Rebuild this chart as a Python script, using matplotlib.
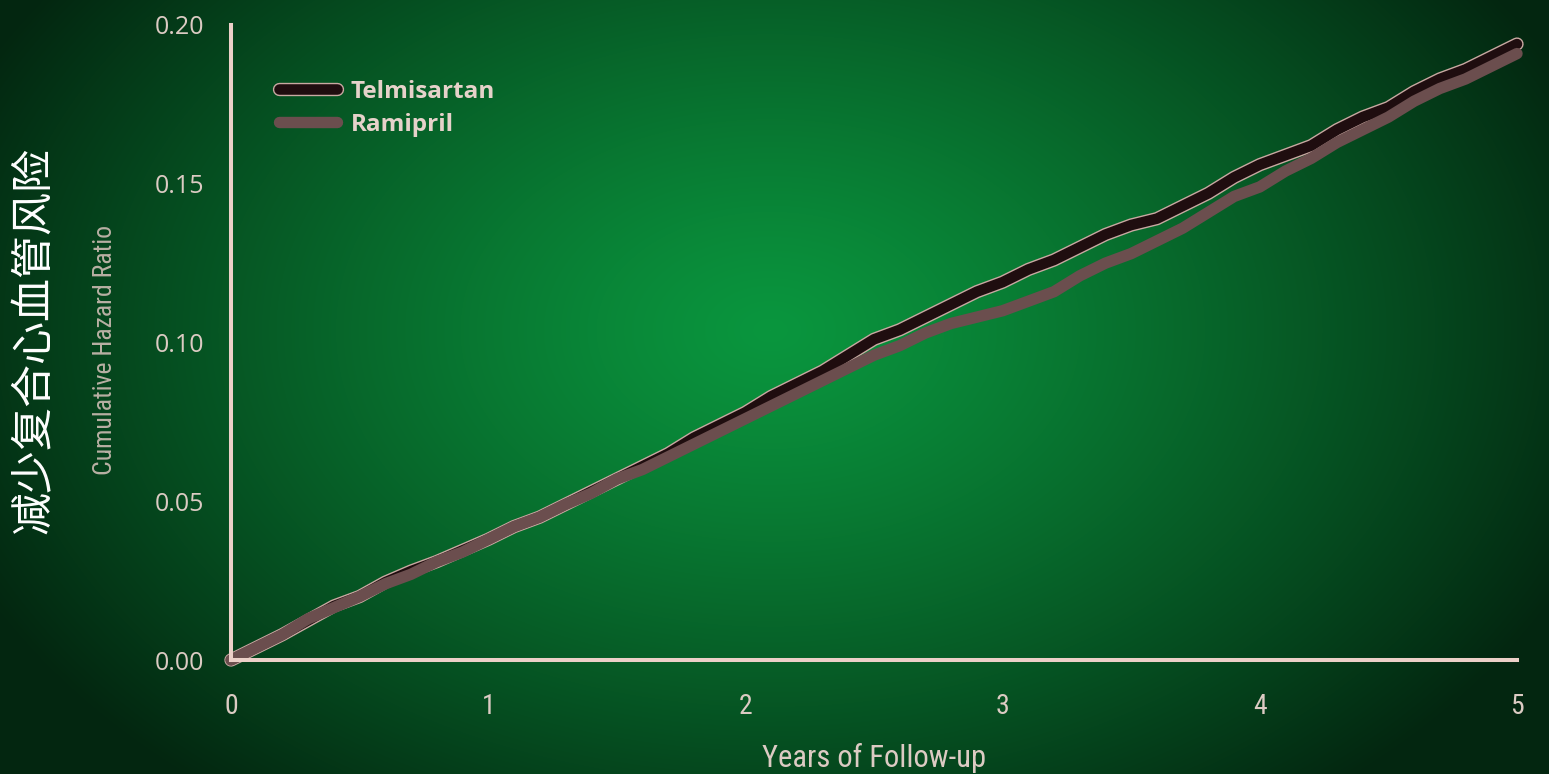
import numpy as np
import matplotlib
matplotlib.use("Agg")
import matplotlib.pyplot as plt
import matplotlib.patheffects as pe
from matplotlib import font_manager

# cumulative hazard read at 0.1-year steps
years = [0.0, 0.1, 0.2, 0.3, 0.4, 0.5, 0.6, 0.7, 0.8, 0.9,
         1.0, 1.1, 1.2, 1.3, 1.4, 1.5, 1.6, 1.7, 1.8, 1.9,
         2.0, 2.1, 2.2, 2.3, 2.4, 2.5, 2.6, 2.7, 2.8, 2.9,
         3.0, 3.1, 3.2, 3.3, 3.4, 3.5, 3.6, 3.7, 3.8, 3.9,
         4.0, 4.1, 4.2, 4.3, 4.4, 4.5, 4.6, 4.7, 4.8, 4.9, 5.0]

telmisartan = [0.000, 0.004, 0.008, 0.0125, 0.017, 0.020, 0.0245, 0.028, 0.031, 0.0345,
               0.038, 0.042, 0.045, 0.049, 0.053, 0.057, 0.061, 0.065, 0.070, 0.074,
               0.078, 0.083, 0.087, 0.091, 0.096, 0.101, 0.104, 0.108, 0.112, 0.116,
               0.119, 0.123, 0.126, 0.130, 0.134, 0.137, 0.139, 0.143, 0.147, 0.152,
               0.156, 0.159, 0.162, 0.167, 0.171, 0.174, 0.179, 0.183, 0.186, 0.190, 0.194]

ramipril = [0.000, 0.004, 0.008, 0.013, 0.0165, 0.020, 0.024, 0.027, 0.031, 0.034,
            0.038, 0.042, 0.045, 0.049, 0.0525, 0.057, 0.060, 0.064, 0.068, 0.072,
            0.076, 0.080, 0.084, 0.088, 0.092, 0.096, 0.099, 0.103, 0.106, 0.108,
            0.110, 0.113, 0.116, 0.121, 0.125, 0.128, 0.132, 0.136, 0.141, 0.146,
            0.149, 0.154, 0.158, 0.163, 0.167, 0.171, 0.176, 0.180, 0.183, 0.187, 0.191]

x_ticks = [0, 1, 2, 3, 4, 5]
y_ticks = [0.00, 0.05, 0.10, 0.15, 0.20]

# pick a narrow face if one is around
names = {f.name for f in font_manager.fontManager.ttflist}
narrow = None
for cand in ["Liberation Sans Narrow", "DejaVu Sans Condensed", "Roboto Condensed",
             "Open Sans Condensed"]:
    if cand in names:
        narrow = cand
        break
cond = dict(fontfamily=narrow or "DejaVu Sans", fontstretch="condensed")

W, H = 1549, 774
fig = plt.figure(figsize=(W / 100, H / 100), dpi=100)

# radial green backdrop
bg = fig.add_axes([0, 0, 1, 1], zorder=-1)
yy, xx = np.mgrid[0:H, 0:W]
d = np.sqrt(((xx - 770) / 880.0) ** 2 + ((yy - 330) / 600.0) ** 2)
t = np.clip(d, 0, 1) ** 1.2
c0 = np.array([10, 150, 62]) / 255.0
c1 = np.array([3, 38, 16]) / 255.0
img = c0 * (1 - t)[..., None] + c1 * t[..., None]
bg.imshow(img, aspect="auto", interpolation="bilinear")
bg.axis("off")

ax = fig.add_axes([231 / W, 1 - 660 / H, (1517 - 231) / W, (660 - 25) / H])
ax.set_facecolor("none")

ax.plot(years, telmisartan, color="#1f0d0f", lw=7.6, solid_capstyle="round",
        label="Telmisartan", clip_on=False,
        path_effects=[pe.Stroke(linewidth=9.6, foreground="#c9a9a2"), pe.Normal()])
ax.plot(years, ramipril, color="#6b4e4e", lw=8.2, solid_capstyle="round",
        label="Ramipril", clip_on=False)

ax.set_xlim(0, 5)
ax.set_ylim(0, 0.20)
ax.set_xticks(x_ticks)
ax.set_yticks(y_ticks)
ax.set_xticklabels([str(v) for v in x_ticks], fontsize=20, color="#dccbc3", **cond)
ax.set_yticklabels([f"{v:.2f}" for v in y_ticks], fontfamily="Open Sans",
                   fontsize=18, color="#dccbc3")
ax.tick_params(axis="both", length=0)
ax.tick_params(axis="x", pad=24)
ax.tick_params(axis="y", pad=19)

for side in ("top", "right"):
    ax.spines[side].set_visible(False)
for side in ("left", "bottom"):
    ax.spines[side].set_color("#ecd0c8")
    ax.spines[side].set_linewidth(2.9)

ax.set_xlabel("Years of Follow-up", fontsize=22, color="#dccbc3", labelpad=16, **cond)

fig.text(105 / W, 1 - 350 / H, "Cumulative Hazard Ratio", rotation=90,
         ha="center", va="center", fontsize=18.5, color="#b9b0a4", **cond)
fig.text(35 / W, 1 - 340 / H, "减少复合心血管风险", rotation=90,
         ha="center", va="center", family=["Noto Sans CJK SC", "DejaVu Sans"],
         fontsize=31, weight="light", color="white")

leg = ax.legend(loc="upper left", bbox_to_anchor=(279 / W, 1 - 80 / H),
                bbox_transform=fig.transFigure, frameon=False,
                prop={"family": "Open Sans", "weight": "bold", "size": 17.5},
                handlelength=2.4, handletextpad=0.55, labelspacing=0.35,
                borderpad=0, borderaxespad=0)
for txt in leg.get_texts():
    txt.set_color("#e6d2ca")

fig.savefig("out.png", dpi=100)
